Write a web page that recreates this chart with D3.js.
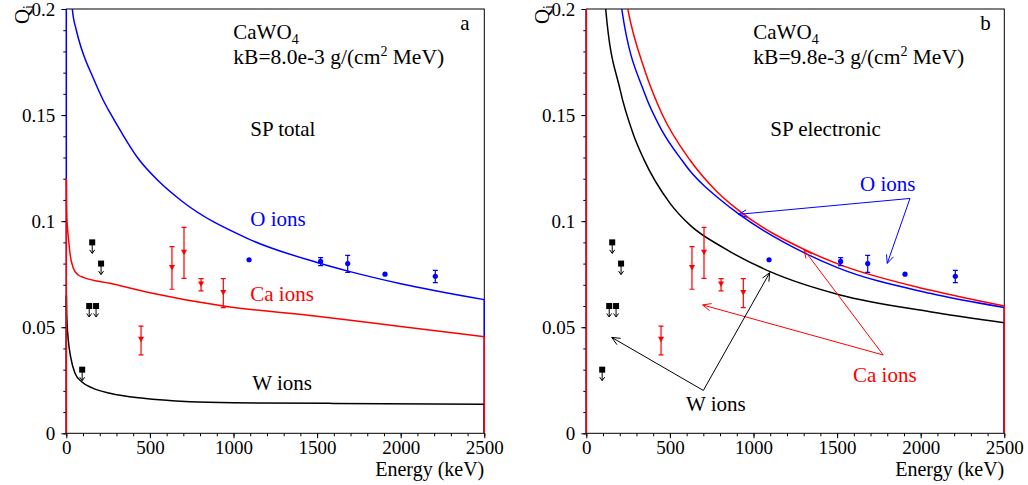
<!DOCTYPE html>
<html><head><meta charset="utf-8">
<script src="https://cdn.jsdelivr.net/npm/d3@7"></script>
<style>
body{margin:0;background:#fff}
svg{display:block}
text{font-family:"Liberation Serif","Times New Roman",serif;fill:#000}
</style>
</head><body>
<svg id="c" width="1028" height="485"></svg>
<script>
// ---------- data ----------
const xTicks = [0, 500, 1000, 1500, 2000, 2500];
const xTickLabels = ["0", "500", "1000", "1500", "2000", "2500"];
const yTicks = [0, 0.05, 0.1, 0.15, 0.2];
const yTickLabels = ["0", "0.05", "0.1", "0.15", "0.2"];

// panel a curves (SP total, kB=8.0e-3)
const aO_E  = [25, 36, 60, 92, 161, 221, 262, 330, 430, 550, 690, 1079, 1500, 1697, 2000, 2500];
const aO_Q  = [0.215, 0.2, 0.19, 0.181, 0.1675, 0.157, 0.151, 0.1418, 0.1295, 0.119, 0.1095, 0.092, 0.0805, 0.0762, 0.0705, 0.0630];
const aCa_E = [0.5, 2, 6, 12, 22, 42, 72, 102, 261, 500, 939, 1500, 2000, 2500];
const aCa_Q = [0.120, 0.105, 0.098, 0.0927, 0.0848, 0.0778, 0.0746, 0.0735, 0.0707, 0.0663, 0.0600, 0.0552, 0.0503, 0.0455];
const aW_E  = [0.5, 2, 12, 26, 52, 92, 161, 261, 461, 740, 1000, 1597, 2500];
const aW_Q  = [0.065, 0.0566, 0.044, 0.036, 0.0283, 0.0243, 0.0212, 0.0189, 0.0165, 0.0149, 0.0144, 0.0141, 0.0137];

// panel b curves (SP electronic, kB=9.8e-3)
const bO_E  = [150, 212, 350, 450, 571, 622, 700, 780, 909, 1310, 1498, 2055, 2500];
const bO_Q  = [0.24, 0.2, 0.160, 0.143, 0.1288, 0.1235, 0.117, 0.1115, 0.1035, 0.0848, 0.0782, 0.066, 0.0593];
const bCa_E = [170, 248, 350, 450, 620, 780, 909, 1310, 1500, 2055, 2500];
const bCa_Q = [0.24, 0.2, 0.171, 0.151, 0.1288, 0.114, 0.1052, 0.0864, 0.080, 0.0675, 0.0600];
const bW_E  = [80, 116, 202, 281, 345, 501, 622, 819, 1099, 1518, 2055, 2500];
const bW_Q  = [0.24, 0.2, 0.162, 0.141, 0.129, 0.1084, 0.098, 0.0875, 0.0762, 0.0652, 0.0573, 0.0521];

// measured points: W upper limits
const wLim_E = [95, 137, 155, 178, 208];
const wLim_Q = [0.030, 0.060, 0.090, 0.060, 0.080];
// Ca points with errors
const ca_E  = [447, 632, 704, 806, 939];
const ca_Q  = [0.0443, 0.0782, 0.0853, 0.0704, 0.0664];
const ca_lo = [0.037, 0.0679, 0.073, 0.0671, 0.0592];
const ca_hi = [0.0505, 0.088, 0.0971, 0.0729, 0.0729];
// O points with errors (null = no error bar)
const o_E  = [1093, 1521, 1683, 1906, 2207];
const o_Q  = [0.0818, 0.081, 0.080, 0.075, 0.074];
const o_lo = [null, 0.079, 0.0759, null, 0.071];
const o_hi = [null, 0.0828, 0.0839, null, 0.0768];

// panel b annotation arrows: [colour, vertexE, vertexQ, tipE, tipQ]
const arrowsB = [
  ["#0000ff", 1936, 0.1107, 909, 0.1032],
  ["#0000ff", 1936, 0.1107, 1800, 0.0801],
  ["#ff0000", 1776, 0.0369, 1302, 0.0865],
  ["#ff0000", 1776, 0.0369, 696, 0.0605],
  ["#000000", 700, 0.0202, 1097, 0.0757],
  ["#000000", 700, 0.0202, 152, 0.0452]
];

// ---------- drawing ----------
const svg = d3.select("#c");
const BLUE = "#0000ff", RED = "#ff0000", BLACK = "#000000";

const panels = [
  { key: "a", x0: 66.3, kB: "kB=8.0e-3 g/(cm", sp: "SP total",
    curves: [[aO_E, aO_Q, BLUE], [aW_E, aW_Q, BLACK], [aCa_E, aCa_Q, RED]] },
  { key: "b", x0: 586.3, kB: "kB=9.8e-3 g/(cm", sp: "SP electronic",
    curves: [[bW_E, bW_Q, BLACK], [bO_E, bO_Q, BLUE], [bCa_E, bCa_Q, RED]] }
];
const W = 418, yTop = 9, yBot = 433.3;

panels.forEach((p, pi) => {
  const x = d3.scaleLinear().domain([0, 2500]).range([p.x0, p.x0 + W]);
  const y = d3.scaleLinear().domain([0, 0.2]).range([yBot, yTop]);
  const g = svg.append("g");

  const cid = "clip" + p.key;
  svg.append("defs").append("clipPath").attr("id", cid)
    .append("rect").attr("x", p.x0 - 1).attr("y", yTop).attr("width", W + 2).attr("height", yBot - yTop + 1);

  // frame
  g.append("rect").attr("x", p.x0).attr("y", yTop).attr("width", W).attr("height", yBot - yTop)
    .attr("fill", "none").attr("stroke", "#000").attr("stroke-width", 1);

  // y axis
  const yAx = d3.axisLeft(y).tickValues(d3.range(0, 0.2001, 0.01)).tickSize(3).tickFormat("");
  g.append("g").attr("transform", `translate(${p.x0},0)`).call(yAx)
    .call(s => s.select(".domain").remove())
    .call(s => s.selectAll("line").attr("stroke", "#000"));
  const yAxM = d3.axisLeft(y).tickValues(yTicks).tickSize(5).tickFormat((d, i) => yTickLabels[i]).tickPadding(6);
  g.append("g").attr("transform", `translate(${p.x0},0)`).call(yAxM)
    .call(s => s.select(".domain").remove())
    .call(s => s.selectAll("line").attr("stroke", "#000"))
    .call(s => s.selectAll("text").attr("font-size", 19).attr("font-family", "Liberation Serif").attr("dy", "0.34em").attr("fill", "#000"));

  // x axis
  const xAx = d3.axisBottom(x).tickValues(d3.range(0, 2501, 100)).tickSize(3).tickFormat("");
  g.append("g").attr("transform", `translate(0,${yBot})`).call(xAx)
    .call(s => s.select(".domain").remove())
    .call(s => s.selectAll("line").attr("stroke", "#000"));
  const xAxM = d3.axisBottom(x).tickValues(xTicks).tickSize(5).tickFormat((d, i) => xTickLabels[i]).tickPadding(3);
  g.append("g").attr("transform", `translate(0,${yBot})`).call(xAxM)
    .call(s => s.select(".domain").remove())
    .call(s => s.selectAll("line").attr("stroke", "#000"))
    .call(s => s.selectAll("text").attr("font-size", 19).attr("font-family", "Liberation Serif").attr("dy", "0.68em").attr("fill", "#000"));

  // axis titles
  g.append("text").attr("x", p.x0 + W).attr("y", 476).attr("text-anchor", "end")
    .attr("font-size", 20).text("Energy (keV)");
  const yl = g.append("text").attr("transform", `translate(${p.x0 - 37},5) rotate(-90)`)
    .attr("text-anchor", "end").attr("font-size", 21);
  yl.append("tspan").text("Q");
  yl.append("tspan").attr("font-size", 14).attr("dy", 4).text("i");

  // curves
  const cg = g.append("g").attr("clip-path", `url(#${cid})`);
  const line = d3.line().x(d => x(d[0])).y(d => y(d[1])).curve(d3.curveMonotoneX);
  const seg = d3.line().x(d => x(d[0])).y(d => y(d[1]));
  p.curves.forEach(([E, Q, col]) => {
    const pts = E.map((e, i) => [e, Q[i]]);
    cg.append("path").attr("d", seg([[0, 0], [0, Q[0]]])).attr("fill", "none").attr("stroke", col).attr("stroke-width", 1.5);
    cg.append("path").attr("d", line(pts)).attr("fill", "none").attr("stroke", col).attr("stroke-width", 1.5);
    const l = pts[pts.length - 1];
    cg.append("path").attr("d", seg([[l[0], l[1]], [l[0], 0]])).attr("fill", "none").attr("stroke", col).attr("stroke-width", 1.5);
  });

  // W upper limits
  wLim_E.forEach((e, i) => {
    const cx = x(e), cy = y(wLim_Q[i]);
    g.append("line").attr("x1", cx).attr("x2", cx).attr("y1", cy).attr("y2", cy + 11).attr("stroke", "#000").attr("stroke-width", 1);
    g.append("path").attr("d", `M${cx - 2.5},${cy + 7.5}L${cx},${cy + 11}L${cx + 2.5},${cy + 7.5}`).attr("fill", "none").attr("stroke", "#000").attr("stroke-width", 1);
    g.append("rect").attr("x", cx - 3).attr("y", cy - 3).attr("width", 6).attr("height", 6).attr("fill", "#000");
  });

  // Ca points
  ca_E.forEach((e, i) => {
    const cx = x(e), cy = y(ca_Q[i]), y1 = y(ca_lo[i]), y2 = y(ca_hi[i]);
    g.append("path").attr("d", `M${cx},${y1}L${cx},${y2}M${cx - 2.5},${y1}L${cx + 2.5},${y1}M${cx - 2.5},${y2}L${cx + 2.5},${y2}`)
      .attr("stroke", RED).attr("stroke-width", 1.2).attr("fill", "none");
    g.append("path").attr("d", `M${cx - 3},${cy - 2.5}L${cx + 3},${cy - 2.5}L${cx},${cy + 3}Z`).attr("fill", RED);
  });

  // O points
  o_E.forEach((e, i) => {
    const cx = x(e), cy = y(o_Q[i]);
    if (o_lo[i] !== null) {
      const y1 = y(o_lo[i]), y2 = y(o_hi[i]);
      g.append("path").attr("d", `M${cx},${y1}L${cx},${y2}M${cx - 2.5},${y1}L${cx + 2.5},${y1}M${cx - 2.5},${y2}L${cx + 2.5},${y2}`)
        .attr("stroke", BLUE).attr("stroke-width", 1.2).attr("fill", "none");
    }
    g.append("circle").attr("cx", cx).attr("cy", cy).attr("r", 2.6).attr("fill", BLUE);
  });

  // texts
  const tx = p.x0 + 167;
  const t1 = g.append("text").attr("x", tx).attr("y", 39).attr("font-size", 21);
  t1.append("tspan").text("CaWO");
  t1.append("tspan").attr("font-size", 14).attr("dy", 5).text("4");
  const t2 = g.append("text").attr("x", tx).attr("y", 64).attr("font-size", 21.5);
  t2.append("tspan").text(p.kB);
  t2.append("tspan").attr("font-size", 14).attr("dy", -8).text("2");
  t2.append("tspan").attr("dy", 8).text(" MeV)");
  g.append("text").attr("x", p.x0 + 394).attr("y", 30).attr("font-size", 21).text(p.key);

  g.append("text").attr("x", p.x0 + 184).attr("y", 136).attr("font-size", 21).text(p.sp);
  if (pi === 0) {
    g.append("text").attr("x", p.x0 + 184).attr("y", 226).attr("font-size", 21).style("fill", BLUE).text("O ions");
    g.append("text").attr("x", p.x0 + 184).attr("y", 301).attr("font-size", 21).style("fill", RED).text("Ca ions");
    g.append("text").attr("x", p.x0 + 186).attr("y", 390).attr("font-size", 21).text("W ions");
  } else {
    g.append("text").attr("x", 860).attr("y", 191).attr("font-size", 21).style("fill", BLUE).text("O ions");
    g.append("text").attr("x", 853).attr("y", 382).attr("font-size", 21).style("fill", RED).text("Ca ions");
    g.append("text").attr("x", 686).attr("y", 411).attr("font-size", 21).text("W ions");
    arrowsB.forEach(([col, vE, vQ, tE, tQ]) => {
      const x1 = x(vE), y1 = y(vQ), x2 = x(tE), y2 = y(tQ);
      const a = Math.atan2(y2 - y1, x2 - x1), L = 9, h = 0.42;
      const hx1 = x2 - L * Math.cos(a - h), hy1 = y2 - L * Math.sin(a - h);
      const hx2 = x2 - L * Math.cos(a + h), hy2 = y2 - L * Math.sin(a + h);
      g.append("path").attr("d", `M${x1},${y1}L${x2},${y2}M${hx1},${hy1}L${x2},${y2}L${hx2},${hy2}`)
        .attr("fill", "none").attr("stroke", col).attr("stroke-width", 1);
    });
  }
});
</script>
</body></html>
